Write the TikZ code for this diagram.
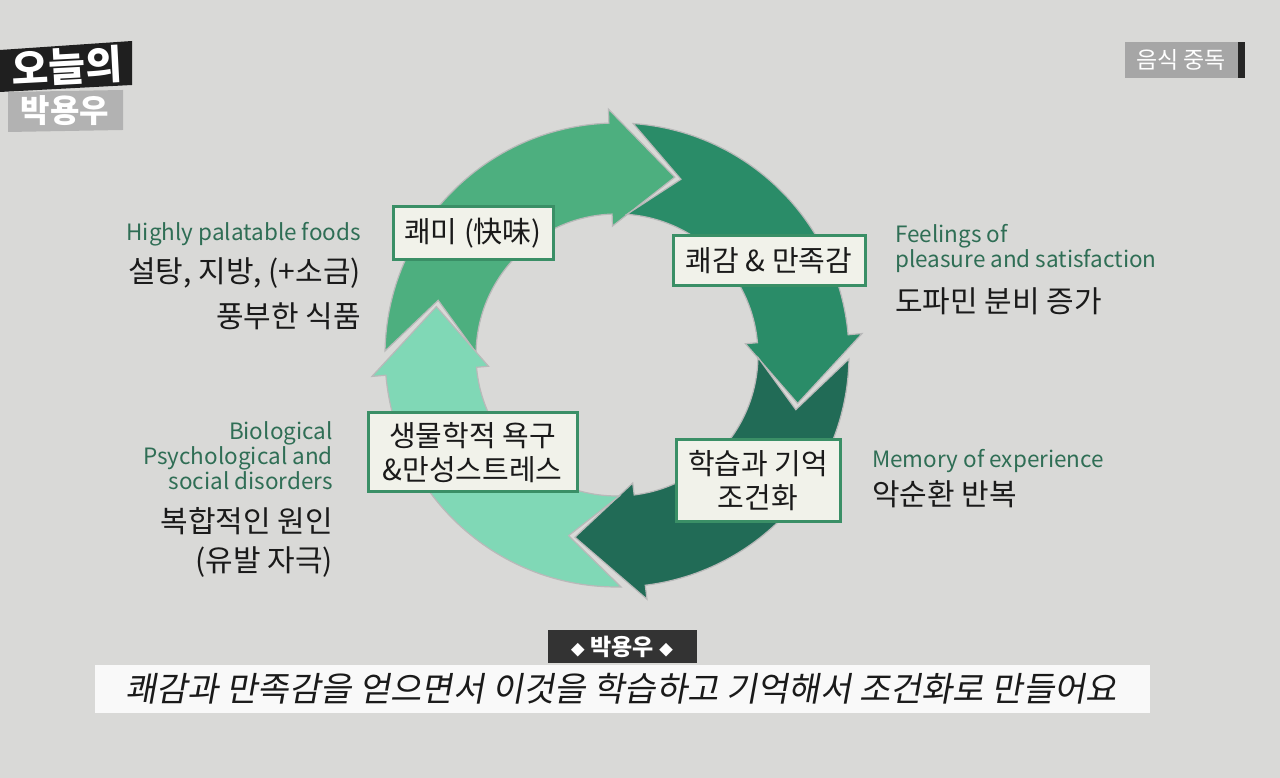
\documentclass[tikz,border=0pt]{standalone}
\usepackage{fontspec}
\setmainfont{Noto Sans CJK KR}
\newfontfamily\slantfont{Noto Sans CJK KR}[FakeSlant=0.18]
\definecolor{paper}{HTML}{D9D9D7}
\definecolor{segA}{HTML}{4DAF7F}
\definecolor{segB}{HTML}{2A8C68}
\definecolor{segC}{HTML}{216B56}
\definecolor{segD}{HTML}{80D8B6}
\definecolor{boxline}{HTML}{3A8F66}
\definecolor{boxfill}{HTML}{F1F2EA}
\definecolor{labgreen}{HTML}{2F6E55}
\definecolor{ink}{HTML}{1A1A1A}
% one piece of the cycle: colour, tail corner, tail notch, head base, head tip
\newcommand\cycleseg[5]{%
  \fill[#1,draw=gray!55,line width=1.2pt,shift={(617,423)}]
    (#2:232) arc[start angle=#2,end angle=#4,radius=232pt]
    -- (#4:246) -- (#5:187) -- (#4:129) -- (#4:141)
    arc[start angle=#4,end angle=#2,radius=141pt]
    -- (#3:187) -- cycle;}
\begin{document}
\begin{tikzpicture}[x=1pt,y=1pt,
  stagebox/.style={draw=boxline,line width=3pt,fill=boxfill,text=ink,inner sep=0pt,align=center,font=\fontsize{29}{34}\selectfont},
  engtext/.style={text=labgreen,inner sep=0pt,font=\fontsize{22.5}{25}\selectfont},
  kortext/.style={text=ink,inner sep=0pt,font=\fontsize{30}{39}\selectfont}]
\useasboundingbox (0,0) rectangle (1280,778);
\fill[paper] (0,0) rectangle (1280,778);

% the four arrows of the cycle
\cycleseg{segA}{179}{163}{92}{72}
\cycleseg{segB}{86}{70}{5}{-15}
\cycleseg{segC}{-1}{-17}{-83}{-103}
\cycleseg{segD}{-89}{-105}{-175}{-195}

\node[stagebox,minimum width=160pt,minimum height=53pt] (kwaemi) at (473,544.5) {쾌미 (快味)};
\node[stagebox,minimum width=192pt,minimum height=50pt] (kwaegam) at (769,517) {쾌감 \& 만족감};
\node[stagebox,minimum width=209pt,minimum height=79pt] (yokgu) at (472.5,325.5) {생물학적 욕구\\\&만성스트레스};
\node[stagebox,minimum width=164pt,minimum height=82pt] (hakseup) at (758,297) {학습과 기억\\조건화};

% side notes
\node[engtext,anchor=east] (foodsEn) at (361,544) {Highly palatable foods};
\node[kortext,anchor=east] (foodsKo1) at (361,505) {설탕, 지방, (+소금)};
\node[kortext,anchor=east] (foodsKo2) at (361,462) {풍부한 식품};
\node[engtext,anchor=east,align=right] (causeEn) at (333,322) {Biological\\Psychological and\\social disorders};
\node[kortext,anchor=east,align=right] (causeKo) at (333,235.5) {복합적인 원인\\(유발 자극)};
\node[engtext,anchor=west,align=left] (feelEn) at (895,529.5) {Feelings of\\pleasure and satisfaction};
\node[kortext,anchor=west] (feelKo) at (895,477) {도파민 분비 증가};
\node[engtext,anchor=west] (memEn) at (872,317) {Memory of experience};
\node[kortext,anchor=west] (memKo) at (872,284) {악순환 반복};

% corner marks
\fill[black!88] (0,728) -- (132,737) -- (132,693) -- (0,686) -- cycle;
\node[text=white,font=\fontsize{40}{42}\selectfont\bfseries,rotate=3] (today) at (67,711) {오늘의};
\fill[gray!60] (8,686) -- (123,688) -- (123,648) -- (8,646) -- cycle;
\node[text=white,font=\fontsize{32}{34}\selectfont\bfseries] (parkLogo) at (65,667) {박용우};
\fill[gray!70] (1125,700) rectangle (1238,736);
\fill[black!85] (1238,700) rectangle (1245,736);
\node[text=white,font=\fontsize{23}{25}\selectfont] (topic) at (1181,718) {음식 중독};

% subtitle
\fill[black!80] (548,148) rectangle (697,115);
\node[text=white,font=\fontsize{23}{25}\selectfont\bfseries] (speaker) at (622,131.5) {{\fontsize{14}{15}\selectfont◆} 박용우 {\fontsize{14}{15}\selectfont◆}};
\fill[white!95!gray] (95,113) rectangle (1150,65);
\node[text=ink,font=\fontsize{34}{36}\selectfont\slantfont] (caption) at (621,89) {쾌감과 만족감을 얻으면서 이것을 학습하고 기억해서 조건화로 만들어요};
\end{tikzpicture}
\end{document}
